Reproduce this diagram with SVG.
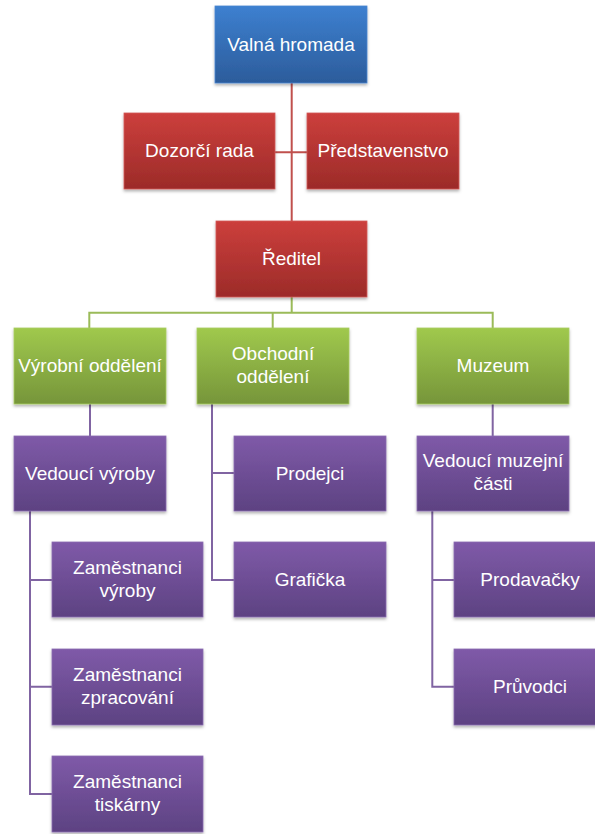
<svg xmlns="http://www.w3.org/2000/svg" width="595" height="834" viewBox="0 0 595 834">
<defs>
<linearGradient id="gBlue" x1="0" y1="0" x2="0" y2="1"><stop offset="0" stop-color="#3d80d0"/><stop offset="1" stop-color="#2c5c9b"/></linearGradient>
<linearGradient id="gRed" x1="0" y1="0" x2="0" y2="1"><stop offset="0" stop-color="#cc3f3c"/><stop offset="1" stop-color="#9c2b29"/></linearGradient>
<linearGradient id="gGreen" x1="0" y1="0" x2="0" y2="1"><stop offset="0" stop-color="#a0c94d"/><stop offset="1" stop-color="#76953a"/></linearGradient>
<linearGradient id="gPurple" x1="0" y1="0" x2="0" y2="1"><stop offset="0" stop-color="#7f5aa8"/><stop offset="1" stop-color="#5d4282"/></linearGradient>
<filter id="sh" x="-10%" y="-10%" width="120%" height="130%"><feDropShadow dx="0" dy="2" stdDeviation="1.5" flood-color="#000" flood-opacity="0.3"/></filter>
</defs>
<style>
text{font-family:"Liberation Sans",Arial,sans-serif;font-size:19px;fill:#fff;text-anchor:middle}
.box{filter:url(#sh)}
.blue{fill:url(#gBlue);stroke:#4a86d0;stroke-width:0.8}
.red{fill:url(#gRed);stroke:#d25a57;stroke-width:0.8}
.green{fill:url(#gGreen);stroke:#a8cc60;stroke-width:0.8}
.purple{fill:url(#gPurple);stroke:#8a6cb0;stroke-width:0.8}
.cr{stroke:#c0504d;stroke-width:2;fill:none}
.cg{stroke:#9bbb59;stroke-width:2;fill:none}
.cp{stroke:#8064a2;stroke-width:2;fill:none}
</style>
<rect width="595" height="834" fill="#fff"/>
<g id="connectors">
<path class="cr" d="M291.7 83 V221 M275 152.3 H307"/>
<path class="cg" d="M291.7 297 V312.7 M89.3 328 V312.7 H492.7 V328 M272.7 312.7 V328"/>
<path class="cp" d="M90 404 V436 M492.7 404 V436"/>
<path class="cp" d="M212 404 V580 H234 M212 473 H234"/>
<path class="cp" d="M30 511 V794 H52 M30 580 H52 M30 686.7 H52"/>
<path class="cp" d="M432.3 511 V686.7 H454 M432.3 580 H454"/>
</g>
<g id="valna-hromada"><rect class="box blue" x="215" y="6" width="152" height="77"/><text x="291" y="50.5">Valná hromada</text></g>
<g id="dozorci-rada"><rect class="box red" x="124" y="113" width="151" height="76"/><text x="199.5" y="157">Dozorčí rada</text></g>
<g id="predstavenstvo"><rect class="box red" x="307" y="113" width="152" height="76"/><text x="383" y="157">Představenstvo</text></g>
<g id="reditel"><rect class="box red" x="216" y="221" width="151" height="76"/><text x="291.5" y="265">Ředitel</text></g>
<g id="vyrobni"><rect class="box green" x="14" y="328" width="152" height="76"/><text x="90" y="372">Výrobní oddělení</text></g>
<g id="obchodni"><rect class="box green" x="197" y="328" width="152" height="76"/><text x="273" y="360">Obchodní</text><text x="273" y="382.5">oddělení</text></g>
<g id="muzeum"><rect class="box green" x="417" y="328" width="152" height="76"/><text x="493" y="372">Muzeum</text></g>
<g id="vedouci-vyroby"><rect class="box purple" x="14" y="436" width="152" height="75"/><text x="90" y="479.5">Vedoucí výroby</text></g>
<g id="prodejci"><rect class="box purple" x="234" y="436" width="152" height="75"/><text x="310" y="479.5">Prodejci</text></g>
<g id="vedouci-muzejni"><rect class="box purple" x="417" y="436" width="152" height="75"/><text x="493" y="467">Vedoucí muzejní</text><text x="493" y="489.5">části</text></g>
<g id="grafikca"><rect class="box purple" x="234" y="542" width="152" height="75"/><text x="310" y="586">Grafička</text></g>
<g id="zam-vyroby"><rect class="box purple" x="52" y="542" width="151" height="75"/><text x="127.5" y="574">Zaměstnanci</text><text x="127.5" y="597">výroby</text></g>
<g id="zam-zpracovani"><rect class="box purple" x="52" y="649" width="151" height="76"/><text x="127.5" y="681">Zaměstnanci</text><text x="127.5" y="704">zpracování</text></g>
<g id="zam-tiskarny"><rect class="box purple" x="52" y="756" width="151" height="76"/><text x="127.5" y="788">Zaměstnanci</text><text x="127.5" y="811">tiskárny</text></g>
<g id="prodavacky"><rect class="box purple" x="454" y="542" width="152" height="75"/><text x="530" y="586">Prodavačky</text></g>
<g id="pruvodci"><rect class="box purple" x="454" y="649" width="152" height="76"/><text x="530" y="693">Průvodci</text></g>
</svg>
